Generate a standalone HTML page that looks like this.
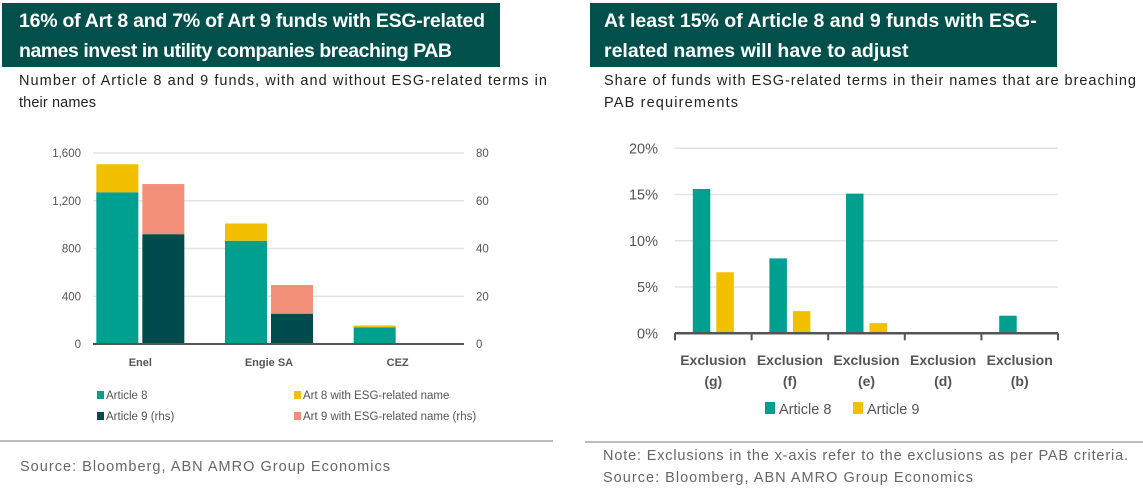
<!DOCTYPE html>
<html><head><meta charset="utf-8"><style>
body{margin:0;background:#fff;width:1143px;height:492px;overflow:hidden}
svg{display:block;font-family:"Liberation Sans",sans-serif}
</style></head><body>
<svg id="s" width="1143" height="492">
<rect x="2" y="3" width="498" height="64" fill="#02504b"/>
<text x="19" y="27" fill="#fff" font-size="19.5" font-weight="bold"><tspan x="19" textLength="466">16% of Art 8 and 7% of Art 9 funds with ESG-related</tspan><tspan x="19" dy="30" textLength="433">names invest in utility companies breaching PAB</tspan></text>
<text font-size="14.5" fill="#222"><tspan x="19" y="85" textLength="528">Number of Article 8 and 9 funds, with and without ESG-related terms in</tspan><tspan x="19" y="107" textLength="77">their names</tspan></text>
<rect x="590" y="3" width="467" height="64" fill="#02504b"/>
<text x="604" y="27" fill="#fff" font-size="19.5" font-weight="bold"><tspan x="604">At least 15% of Article 8 and 9 funds with ESG-</tspan><tspan x="604" dy="30">related names will have to adjust</tspan></text>
<text font-size="14.5" fill="#222"><tspan x="604" y="85" textLength="532">Share of funds with ESG-related terms in their names that are breaching</tspan><tspan x="604" y="107" textLength="134">PAB requirements</tspan></text>
<line x1="0" y1="441" x2="553" y2="441" stroke="#bbb" stroke-width="2"/>
<text x="20" y="471" font-size="14.5" fill="#666" textLength="370">Source: Bloomberg, ABN AMRO Group Economics</text>
<line x1="585" y1="442" x2="1143" y2="442" stroke="#bbb" stroke-width="2"/>
<text font-size="14.5" fill="#666"><tspan x="603" y="460" textLength="525">Note: Exclusions in the x-axis refer to the exclusions as per PAB criteria.</tspan><tspan x="603" y="482" textLength="370">Source: Bloomberg, ABN AMRO Group Economics</tspan></text>
<g id="L"></g><g id="R"></g>
</svg>
<script>
const companies=["Enel","Engie SA","CEZ"];
const art8=[1271,865,140];
const art8Esg=[235,145,15];
const art9=[46,12.7,0];
const art9Esg=[21,12,0];
const leftTicks=[0,400,800,1200,1600];
const rightTicks=[0,20,40,60,80];
const exclusions=["(g)","(f)","(e)","(d)","(b)"];
const rArt8=[15.6,8.1,15.1,0,1.9];
const rArt9=[6.6,2.4,1.1,0,0];
const pctTicks=[0,5,10,15,20];
const NS="http://www.w3.org/2000/svg";
function mk(p,t,a,txt){const e=document.createElementNS(NS,t);for(const k in a)e.setAttribute(k,a[k]);if(txt!=null)e.textContent=txt;p.appendChild(e);return e;}
const C8="#00a091",C8E="#f2c000",C9="#004c4c",C9E="#f28f78";
const L=document.getElementById("L");
const y0=344,yT=153;
const yl=v=>y0-v/1600*(y0-yT), yr=v=>y0-v/80*(y0-yT);
const gx0=76,gx1=462,bw=(gx1-gx0)/companies.length;
leftTicks.forEach((t,i)=>{
 let g=mk(L,"line",{x1:93,x2:464,y1:yl(t),y2:yl(t),stroke:"#e3e3e3","stroke-width":1.5});
 
 let a=mk(L,"text",{x:81,y:yl(t)+4,"text-anchor":"end","font-size":11.5,fill:"#555"},t.toLocaleString("en-US"));
 
 let b=mk(L,"text",{x:476,y:yr(rightTicks[i])+4,"font-size":11.5,fill:"#555"},rightTicks[i]);
 
});
companies.forEach((c,i)=>{
 const cx=gx0+bw*(i+0.5), w=42;
 const x8=cx-w-2, x9=cx+2;
 let r=mk(L,"rect",{x:x8,y:yl(art8[i]),width:w,height:y0-yl(art8[i]),fill:C8});
 
 r=mk(L,"rect",{x:x8,y:yl(art8[i]+art8Esg[i]),width:w,height:yl(art8[i])-yl(art8[i]+art8Esg[i]),fill:C8E});
 
 r=mk(L,"rect",{x:x9,y:yr(art9[i]),width:w,height:y0-yr(art9[i]),fill:C9});
 
 r=mk(L,"rect",{x:x9,y:yr(art9[i]+art9Esg[i]),width:w,height:yr(art9[i])-yr(art9[i]+art9Esg[i]),fill:C9E});
 
 let t=mk(L,"text",{x:cx,y:366,"text-anchor":"middle","font-size":11,"font-weight":"bold",fill:"#555"},c);
 
});
let ax=mk(L,"line",{x1:93,x2:464,y1:y0,y2:y0,stroke:"#555","stroke-width":2});

[["Article 8",C8,97,399],["Art 8 with ESG-related name",C8E,294,399],["Article 9 (rhs)",C9,97,420],["Art 9 with ESG-related name (rhs)",C9E,294,420]].forEach(l=>{
 const g=mk(L,"g",{});
 
 mk(g,"rect",{x:l[2],y:l[3]-8,width:7,height:8,fill:l[1]});
 mk(g,"text",{x:l[2]+9,y:l[3],"font-size":11.5,fill:"#555"},l[0]);
});
const R=document.getElementById("R");
const ry0=333.3,ryT=148.3;
const yp=v=>ry0-v/20*(ry0-ryT);
const rx0=675,rx1=1058,rb=(rx1-rx0)/exclusions.length;
pctTicks.forEach(t=>{
 if(t>0){let g=mk(R,"line",{x1:rx0,x2:rx1,y1:yp(t),y2:yp(t),stroke:"#e3e3e3","stroke-width":1.5});
 }
 let a=mk(R,"text",{x:658,y:yp(t)+5,"text-anchor":"end","font-size":14.5,fill:"#555"},t+"%");
 
});
exclusions.forEach((c,i)=>{
 const s=rx0+rb*i, cx=s+rb/2, w=17.5;
 let r=mk(R,"rect",{x:cx-w-3,y:yp(rArt8[i]),width:w,height:ry0-yp(rArt8[i]),fill:C8});
 
 r=mk(R,"rect",{x:cx+3,y:yp(rArt9[i]),width:w,height:ry0-yp(rArt9[i]),fill:C8E});
 
 let t=mk(R,"text",{"text-anchor":"middle","font-size":14,"font-weight":"bold",fill:"#555"});
 
 mk(t,"tspan",{x:cx,y:365},"Exclusion");mk(t,"tspan",{x:cx,y:386},c);
});
for(let i=0;i<=exclusions.length;i++){let tk=mk(R,"line",{x1:rx0+rb*i,x2:rx0+rb*i,y1:ry0,y2:ry0+7,stroke:"#555","stroke-width":2});
 }
ax=mk(R,"line",{x1:rx0,x2:rx1,y1:ry0,y2:ry0,stroke:"#555","stroke-width":2.5});

[["Article 8",C8,765],["Article 9",C8E,853]].forEach(l=>{
 const g=mk(R,"g",{});
 
 mk(g,"rect",{x:l[2],y:402,width:10,height:12,fill:l[1]});
 mk(g,"text",{x:l[2]+14,y:414,"font-size":14.5,fill:"#555"},l[0]);
});
</script>
</body></html>
